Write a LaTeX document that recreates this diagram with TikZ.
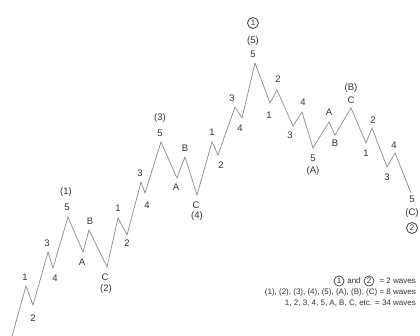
\documentclass[tikz,border=0pt]{standalone}
\usepackage{fontspec}
\setmainfont{Liberation Sans}
\begin{document}
\begin{tikzpicture}[x=1pt,y=-1pt,
  wave/.style={draw=black!45, line width=0.7pt, line join=miter},
  lab/.style={inner sep=0pt, text=black!80, font=\fontsize{9.5}{10}\selectfont},
  circ/.style={circle, draw=black!75, line width=0.8pt, inner sep=0pt, minimum size=11pt, text=black!80, font=\fontsize{8}{9}\selectfont},
  legend/.style={inner sep=0pt, text=black!80, font=\fontsize{8}{9}\selectfont}]
\useasboundingbox (0,0) rectangle (420,336);
\fill[white] (0,0) rectangle (420,336);
% vertices
\coordinate (v0) at (11,340);
\coordinate (v1) at (26,286);
\coordinate (v2) at (33,305);
\coordinate (v3) at (48,252);
\coordinate (v4) at (53,268);
\coordinate (v5) at (68,217);
\coordinate (v6) at (83,252);
\coordinate (v7) at (89,230);
\coordinate (v8) at (107,267);
\coordinate (v9) at (118,218);
\coordinate (v10) at (127,235);
\coordinate (v11) at (141,182);
\coordinate (v12) at (145,193);
\coordinate (v13) at (161,142);
\coordinate (v14) at (177,178);
\coordinate (v15) at (185,157);
\coordinate (v16) at (197,195);
\coordinate (v17) at (212,142);
\coordinate (v18) at (218,155);
\coordinate (v19) at (235,107);
\coordinate (v20) at (242,118);
\coordinate (v21) at (255,63);
\coordinate (v22) at (270,103);
\coordinate (v23) at (277,90);
\coordinate (v24) at (293,126);
\coordinate (v25) at (302,112);
\coordinate (v26) at (313,148);
\coordinate (v27) at (329,122);
\coordinate (v28) at (335,135);
\coordinate (v29) at (351,108);
\coordinate (v30) at (366,143);
\coordinate (v31) at (372,128);
\coordinate (v32) at (387,167);
\coordinate (v33) at (395,153);
\coordinate (v34) at (411,193);
\draw[wave] (v0) -- (v1) -- (v2) -- (v3) -- (v4) -- (v5) -- (v6) -- (v7) -- (v8)
  -- (v9) -- (v10) -- (v11) -- (v12) -- (v13) -- (v14) -- (v15) -- (v16)
  -- (v17) -- (v18) -- (v19) -- (v20) -- (v21) -- (v22) -- (v23) -- (v24)
  -- (v25) -- (v26) -- (v27) -- (v28) -- (v29) -- (v30) -- (v31) -- (v32)
  -- (v33) -- (v34);
% labels
\node[lab] (t1) at (25,277) {1};
\node[lab] (t2) at (33,318) {2};
\node[lab] (t3) at (47,243) {3};
\node[lab] (t4) at (55,278) {4};
\node[lab] (t5) at (67,207) {5};
\node[lab] (t5p) at (66,192) {(1)};
\node[lab] (tA) at (82,262) {A};
\node[lab] (tB) at (90,221) {B};
\node[lab] (tC) at (105,277) {C};
\node[lab] (tCp) at (106,289) {(2)};
\node[lab] (u1) at (118,208) {1};
\node[lab] (u2) at (127,243) {2};
\node[lab] (u3) at (140,173) {3};
\node[lab] (u4) at (147,205) {4};
\node[lab] (u5) at (160,133) {5};
\node[lab] (u5p) at (160,118) {(3)};
\node[lab] (uA) at (176,187) {A};
\node[lab] (uB) at (185,148) {B};
\node[lab] (uC) at (196,205) {C};
\node[lab] (uCp) at (197,216) {(4)};
\node[lab] (w1) at (212,132) {1};
\node[lab] (w2) at (221,165) {2};
\node[lab] (w3) at (232,98) {3};
\node[lab] (w4) at (240,128) {4};
\node[lab] (w5) at (253,54) {5};
\node[lab] (w5p) at (253,41) {(5)};
\node[circ] (w5c) at (253,23) {1};
\node[lab] (x1) at (269,115) {1};
\node[lab] (x2) at (278,79) {2};
\node[lab] (x3) at (290,135) {3};
\node[lab] (x4) at (303,102) {4};
\node[lab] (x5) at (313,158) {5};
\node[lab] (x5p) at (313,171) {(A)};
\node[lab] (xA) at (329,112) {A};
\node[lab] (xB) at (335,143) {B};
\node[lab] (xC) at (351,100) {C};
\node[lab] (xCp) at (351,88) {(B)};
\node[lab] (y1) at (366,153) {1};
\node[lab] (y2) at (373,120) {2};
\node[lab] (y3) at (387,177) {3};
\node[lab] (y4) at (394,145) {4};
\node[lab] (y5) at (412,199) {5};
\node[lab] (y5p) at (412,213) {(C)};
\node[circ] (y5c) at (412,228) {2};
% legend
\node[legend, anchor=east] (g1) at (416,281) {= 2 waves};
\node[circ, minimum size=10pt, line width=0.7pt] (g1b) at (369,281) {2};
\node[legend] (g1a) at (354,281) {and};
\node[circ, minimum size=10pt, line width=0.7pt] (g1o) at (339,281) {1};
\node[legend, anchor=east] (g2) at (416,292) {(1), (2), (3), (4), (5), (A), (B), (C) = 8 waves};
\node[legend, anchor=east] (g3) at (416,303) {1, 2, 3, 4, 5, A, B, C, etc. = 34 waves};
\end{tikzpicture}
\end{document}
